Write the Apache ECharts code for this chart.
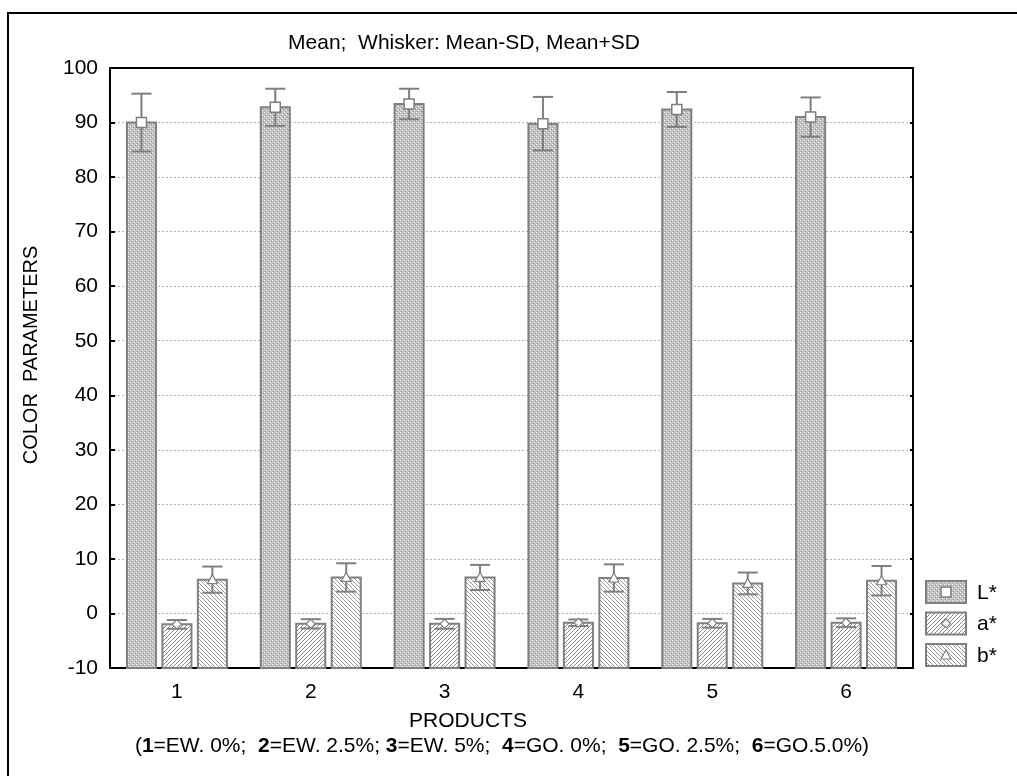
<!DOCTYPE html>
<html>
<head>
<meta charset="utf-8">
<script src="https://cdn.jsdelivr.net/npm/echarts@6/dist/echarts.min.js"></script>
<style>
html,body{margin:0;padding:0;background:#fff;}
#chart{width:1017px;height:776px;}
</style>
</head>
<body>
<div id="chart"></div>
<script>
// ---- data ----
const categories = ['1', '2', '3', '4', '5', '6'];
const L_mean = [90.0, 92.8, 93.4, 89.8, 92.4, 91.0];
const L_sd   = [5.3, 3.4, 2.8, 4.9, 3.2, 3.6];
const a_mean = [-2.0, -1.9, -1.9, -1.7, -1.8, -1.7];
const a_sd   = [0.8, 0.85, 0.9, 0.6, 0.8, 0.8];
const b_mean = [6.2, 6.6, 6.6, 6.5, 5.5, 6.0];
const b_sd   = [2.4, 2.6, 2.3, 2.5, 2.0, 2.7];
const yTicks = { min: -10, max: 100, interval: 10 };
const seriesNames = ['L*', 'a*', 'b*'];

// ---- patterns ----
function makePattern(kind) {
  const c = document.createElement('canvas');
  c.width = 4; c.height = 4;
  const g = c.getContext('2d');
  g.fillStyle = '#ffffff';
  g.fillRect(0, 0, 4, 4);
  if (kind === 'dots') {
    g.fillStyle = '#c2c2c2';
    g.fillRect(0, 0, 4, 4);
    g.fillStyle = '#f2f2f2';
    g.fillRect(0, 0, 1, 1); g.fillRect(2, 2, 1, 1);
    g.fillStyle = '#9c9c9c';
    g.fillRect(1, 3, 1, 1); g.fillRect(3, 1, 1, 1);
  } else if (kind === 'fwd') {
    g.fillStyle = '#8a8a8a';
    for (let x = 0; x < 4; x++) g.fillRect(x, 3 - x, 1, 1);
  } else {
    g.fillStyle = '#9a9a9a';
    for (let x = 0; x < 4; x++) g.fillRect(x, x, 1, 1);
  }
  return { image: c, repeat: 'repeat' };
}
const patterns = [makePattern('dots'), makePattern('fwd'), makePattern('back')];
const GREY = '#7f7f7f';

function markerShape(kind, cx, cy) {
  if (kind === 0) {
    return { type: 'rect', shape: { x: cx - 5, y: cy - 5, width: 10, height: 10 },
      style: { fill: '#fff', stroke: GREY, lineWidth: 1.5 } };
  } else if (kind === 1) {
    return { type: 'polygon', shape: { points: [[cx, cy - 4.5], [cx + 4.5, cy], [cx, cy + 4.5], [cx - 4.5, cy]] },
      style: { fill: '#fff', stroke: GREY, lineWidth: 1.2 } };
  }
  return { type: 'polygon', shape: { points: [[cx, cy - 5], [cx + 5, cy + 4], [cx - 5, cy + 4]] },
    style: { fill: '#fff', stroke: GREY, lineWidth: 1.2 } };
}

function makeRender(k) {
  return function (params, api) {
    const idx = api.value(0), v = api.value(1), sd = api.value(2);
    const band = api.size([1, 0])[0];
    const bw = band * 0.217;
    const off = (k - 1) * band * 0.265;
    const top = api.coord([idx, v]);
    const base = api.coord([idx, yTicks.min]);
    const cx = top[0] + off;
    const hi = api.coord([idx, v + sd])[1];
    const lo = api.coord([idx, v - sd])[1];
    const cap = band * 0.075;
    return {
      type: 'group',
      children: [
        { type: 'rect', shape: { x: cx - bw / 2, y: top[1], width: bw, height: base[1] - top[1] },
          style: { fill: patterns[k], stroke: GREY, lineWidth: 2 } },
        { type: 'line', shape: { x1: cx, y1: hi, x2: cx, y2: lo }, style: { stroke: GREY, lineWidth: 2 } },
        { type: 'line', shape: { x1: cx - cap, y1: hi, x2: cx + cap, y2: hi }, style: { stroke: GREY, lineWidth: 2 } },
        { type: 'line', shape: { x1: cx - cap, y1: lo, x2: cx + cap, y2: lo }, style: { stroke: GREY, lineWidth: 2 } },
        markerShape(k, cx, top[1])
      ]
    };
  };
}

const means = [L_mean, a_mean, b_mean];
const sds = [L_sd, a_sd, b_sd];
const series = seriesNames.map((name, k) => ({
  type: 'custom',
  name: name,
  renderItem: makeRender(k),
  encode: { x: 0, y: 1 },
  data: categories.map((c, i) => [i, means[k][i], sds[k][i]]),
  clip: false,
  z: 5
}));

const FONT = '"Liberation Sans", Arial, sans-serif';
const FS = 21;

// legend built from graphic elements
const legendGraphics = [];
seriesNames.forEach((name, k) => {
  const y = 581 + k * 31.5;
  legendGraphics.push({ type: 'rect', shape: { x: 926, y: y, width: 40, height: 22 },
    style: { fill: patterns[k], stroke: GREY, lineWidth: 2 }, z: 10 });
  const m = markerShape(k, 946, y + 11);
  m.z = 11;
  legendGraphics.push(m);
  legendGraphics.push({ type: 'text', x: 977, y: y + 12, z: 11,
    style: { text: name, font: FS + 'px ' + FONT, fill: '#000', verticalAlign: 'middle' } });
});

const chart = echarts.init(document.getElementById('chart'), null, { renderer: 'canvas' });
chart.setOption({
  animation: false,
  backgroundColor: '#fff',
  grid: { left: 110, top: 68, right: 104, bottom: 108 },
  xAxis: [
    { type: 'category', data: categories, position: 'bottom',
      axisLine: { onZero: false, lineStyle: { color: '#000', width: 2 } },
      axisTick: { inside: true, alignWithLabel: true, length: 5, lineStyle: { color: '#000', width: 2 } },
      axisLabel: { color: '#000', fontSize: FS, fontFamily: FONT, margin: 14 } },
    { type: 'category', data: categories, position: 'top',
      axisLine: { onZero: false, lineStyle: { color: '#000', width: 2 } },
      axisTick: { inside: true, alignWithLabel: true, length: 5, lineStyle: { color: '#000', width: 2 } },
      axisLabel: { show: false } }
  ],
  yAxis: [
    { type: 'value', min: yTicks.min, max: yTicks.max, interval: yTicks.interval, position: 'left',
      axisLine: { show: true, onZero: false, lineStyle: { color: '#000', width: 2 } },
      axisTick: { show: true, inside: true, length: 5, lineStyle: { color: '#000', width: 2 } },
      axisLabel: { color: '#000', fontSize: FS, fontFamily: FONT, margin: 12 },
      splitLine: { show: true, lineStyle: { color: '#b4b4b4', type: [2, 2], width: 1 } } },
    { type: 'value', min: yTicks.min, max: yTicks.max, interval: yTicks.interval, position: 'right',
      axisLine: { show: true, onZero: false, lineStyle: { color: '#000', width: 2 } },
      axisTick: { show: true, inside: true, length: 3, lineStyle: { color: '#000', width: 2 } },
      axisLabel: { show: false },
      splitLine: { show: false } }
  ],
  series: series,
  graphic: [
    { type: 'rect', shape: { x: 8, y: 13, width: 1100, height: 900 },
      style: { fill: null, stroke: '#000', lineWidth: 2 }, z: 0 },
    { type: 'text', x: 464, y: 43, style: { text: 'Mean;  Whisker: Mean-SD, Mean+SD', font: FS + 'px ' + FONT,
      fill: '#000', align: 'center', verticalAlign: 'middle' } },
    { type: 'text', x: 31, y: 355, rotation: Math.PI / 2,
      style: { text: 'COLOR  PARAMETERS', font: '20px ' + FONT, fill: '#000', align: 'center', verticalAlign: 'middle' } },
    { type: 'text', x: 468, y: 721, style: { text: 'PRODUCTS', font: FS + 'px ' + FONT, fill: '#000',
      align: 'center', verticalAlign: 'middle' } },
    { type: 'text', x: 502, y: 746, style: {
      text: '({b|1}=EW. 0%;  {b|2}=EW. 2.5%; {b|3}=EW. 5%;  {b|4}=GO. 0%;  {b|5}=GO. 2.5%;  {b|6}=GO.5.0%)',
      font: FS + 'px ' + FONT, fill: '#000', align: 'center', verticalAlign: 'middle',
      rich: { b: { fontWeight: 'bold', fontSize: FS, fontFamily: FONT, fill: '#000' } } } }
  ].concat(legendGraphics)
});
</script>
</body>
</html>
